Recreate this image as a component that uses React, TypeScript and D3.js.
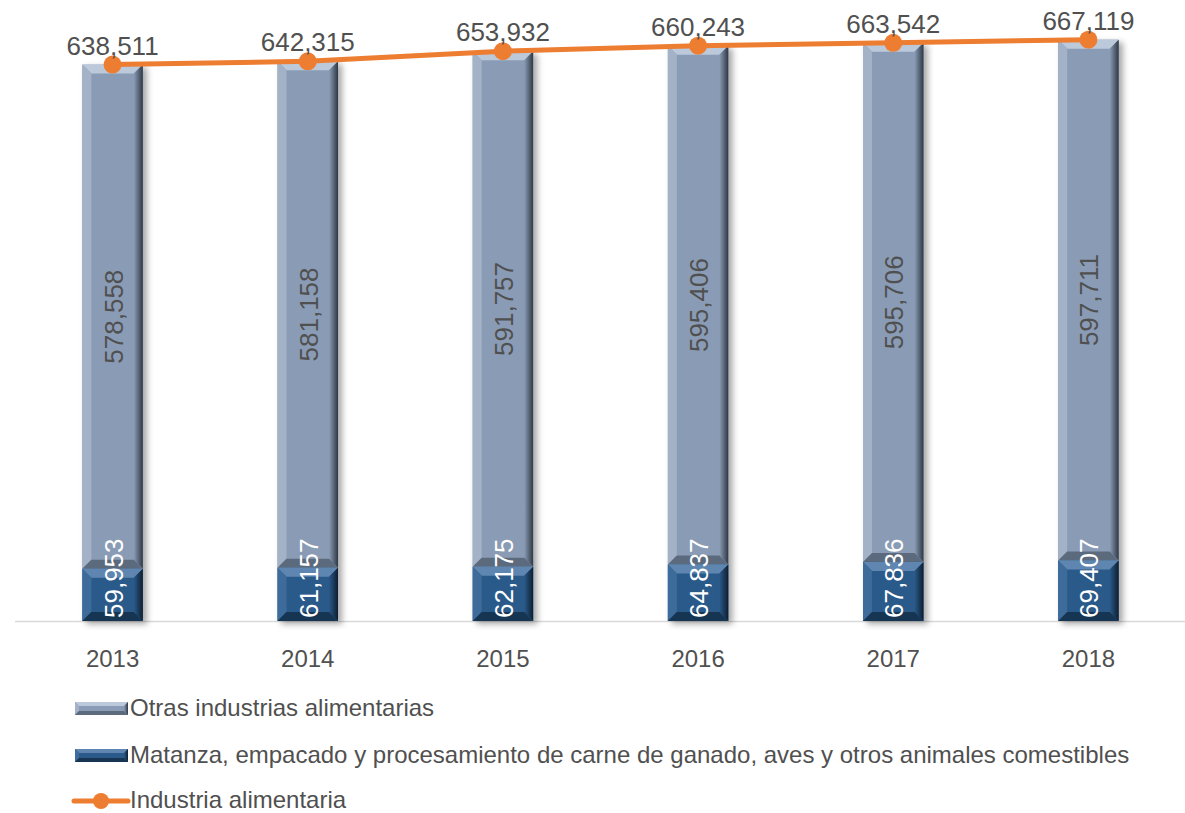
import React from 'react';
import * as d3 from 'd3';

const years = ['2013', '2014', '2015', '2016', '2017', '2018'];
const carne = [59953, 61157, 62175, 64837, 67836, 69407];
const otras = [578558, 581158, 591757, 595406, 595706, 597711];
const total = [638511, 642315, 653932, 660243, 663542, 667119];
const seriesNames = [
  'Otras industrias alimentarias',
  'Matanza, empacado y procesamiento de carne de ganado, aves y otros animales comestibles',
  'Industria alimentaria',
];

const W = 1185;
const H = 813;
const FONT = 'Liberation Sans, Arial, sans-serif';
const TXT = '#505050';
const fmt = d3.format(',');

type Pal = { face: string; top: string; left: string; right: string; bottom: string };
const palOtras: Pal = { face: '#8A9CB5', top: '#BCC9DA', left: '#A3B2C7', right: '#2E3845', bottom: '#5C6A7E' };
const palCarne: Pal = { face: '#2A5A8A', top: '#5F86B0', left: '#3E6C9B', right: '#0E1E30', bottom: '#173552' };

function Bevel({ x, y, w, h, b, pal, id }: { x: number; y: number; w: number; h: number; b: number; pal: Pal; id: string }) {
  const bb = Math.min(b, h / 2, w / 2);
  const x0 = x, x1 = x + w, y0 = y, y1 = y + h;
  const ix0 = x0 + bb, ix1 = x1 - bb, iy0 = y0 + bb, iy1 = y1 - bb;
  return (
    <g>
      <rect x={x0} y={y0} width={w} height={h} fill={pal.face} />
      <polygon points={`${x0},${y0} ${x1},${y0} ${ix1},${iy0} ${ix0},${iy0}`} fill={pal.top} />
      <polygon points={`${x0},${y0} ${ix0},${iy0} ${ix0},${iy1} ${x0},${y1}`} fill={pal.left} />
      <polygon points={`${x1},${y0} ${x1},${y1} ${ix1},${iy1} ${ix1},${iy0}`} fill={`url(#rg-${id})`} />
      <polygon points={`${x0},${y1} ${ix0},${iy1} ${ix1},${iy1} ${x1},${y1}`} fill={pal.bottom} />
    </g>
  );
}

export default function App() {
  const x = d3.scaleBand<string>().domain(years).range([15, 1186]).paddingInner(0.69).paddingOuter(0.345);
  const y = d3.scaleLinear().domain([0, 700000]).range([621, 11]);
  const bw = x.bandwidth();
  const cx = (yr: string) => (x(yr) as number) + bw / 2;
  const line = d3.line<number>().x((_, i) => cx(years[i])).y((v) => y(v));

  const grads = [
    { id: 'o', pal: palOtras },
    { id: 'c', pal: palCarne },
  ];

  return (
    <svg width={W} height={H} style={{ position: 'absolute', left: 0, top: 0, background: '#fff' }} fontFamily={FONT}>
      <defs>
        {grads.map((g) => (
          <linearGradient key={g.id} id={`rg-${g.id}`} x1="0" x2="1" y1="0" y2="0">
            <stop offset="0" stopColor={g.pal.face} />
            <stop offset="1" stopColor={g.pal.right} />
          </linearGradient>
        ))}
        <filter id="shadow" x="-20%" y="-5%" width="150%" height="115%">
          <feDropShadow dx="4" dy="3" stdDeviation="3" floodColor="#000" floodOpacity="0.35" />
        </filter>
      </defs>

      <line x1={15} x2={1185} y1={621.5} y2={621.5} stroke="#D9D9D9" strokeWidth={1.5} />

      {years.map((yr, i) => {
        const bx = x(yr) as number;
        const yC = y(carne[i]);
        const yT = y(carne[i] + otras[i]);
        return (
          <g key={yr}>
            <g filter="url(#shadow)">
              <Bevel id="o" x={bx} y={yT} w={bw} h={yC - yT} b={9} pal={palOtras} />
              <Bevel id="c" x={bx} y={yC} w={bw} h={y(0) - yC} b={9} pal={palCarne} />
            </g>
            <text
              transform={`translate(${cx(yr) + 10},${(yT + yC) / 2}) rotate(-90)`}
              textAnchor="middle"
              fontSize={26}
              fill={TXT}
            >
              {fmt(otras[i])}
            </text>
            <text
              transform={`translate(${cx(yr) + 10},${y(0) - 3}) rotate(-90)`}
              textAnchor="start"
              fontSize={26}
              fill="#FFFFFF"
            >
              {fmt(carne[i])}
            </text>
            <text x={cx(yr)} y={667} textAnchor="middle" fontSize={24} fill={TXT}>
              {yr}
            </text>
          </g>
        );
      })}

      <path d={line(total) || ''} fill="none" stroke="#ED7D31" strokeWidth={5} strokeLinejoin="round" />
      {total.map((v, i) => (
        <g key={i}>
          <circle cx={cx(years[i])} cy={y(v)} r={9} fill="#ED7D31" />
          <text x={cx(years[i])} y={y(v) - 10} textAnchor="middle" fontSize={26} fill={TXT}>
            {fmt(v)}
          </text>
        </g>
      ))}

      {/* Legend */}
      <g>
        <Bevel id="o" x={75} y={702} w={53} h={13} b={4} pal={palOtras} />
        <text x={130} y={716} fontSize={24} fill={TXT}>{seriesNames[0]}</text>
        <Bevel id="c" x={75} y={749} w={53} h={13} b={4} pal={palCarne} />
        <text x={130} y={763} fontSize={24} fill={TXT}>{seriesNames[1]}</text>
        <line x1={74} x2={128} y1={801} y2={801} stroke="#ED7D31" strokeWidth={5} strokeLinecap="round" />
        <circle cx={101} cy={801} r={8} fill="#ED7D31" />
        <text x={130} y={808} fontSize={24} fill={TXT}>{seriesNames[2]}</text>
      </g>
    </svg>
  );
}
